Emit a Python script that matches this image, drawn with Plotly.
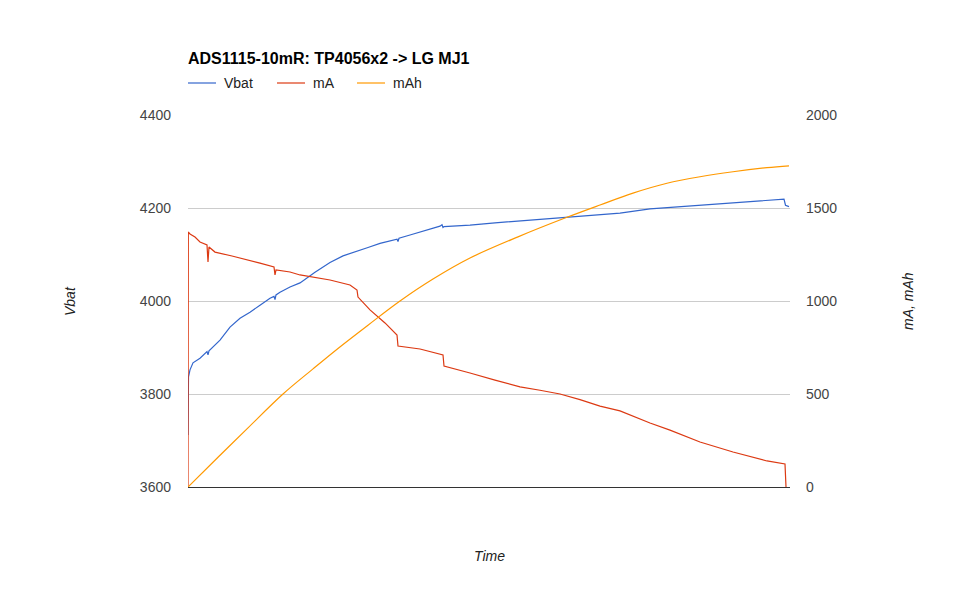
import plotly.graph_objects as go

# ---- data (time in arbitrary sample units) ----
vbat_t = [0, 0.5, 2, 5, 12, 19, 20, 21, 32, 42, 52, 62, 72, 82, 86, 87, 88, 92, 102, 112,
          127, 142, 155, 169, 180, 192, 209, 210, 211, 222, 232, 242, 252, 254, 255, 256, 272,
          282, 307, 332, 352, 372, 392, 412, 432, 462, 487, 512, 537, 562, 580, 596, 597.5, 601]
vbat = [3712, 3837, 3852, 3867, 3877, 3891, 3884, 3893, 3916, 3944, 3963, 3976, 3991, 4006,
        4010, 4003, 4013, 4019, 4030, 4039, 4062, 4083, 4097, 4108, 4115, 4124, 4133, 4128, 4135,
        4142, 4148, 4155, 4161, 4164, 4158, 4160, 4161, 4163, 4168, 4172, 4176, 4179, 4183, 4186,
        4189, 4198, 4202, 4206, 4211, 4215, 4217, 4219, 4206, 4203]

ma_t = [0, 0.3, 2, 7, 12, 19, 20, 21, 27, 37, 44, 72, 86, 87, 88, 102, 112, 142, 162, 169,
        170, 182, 197, 209, 210, 232, 255, 256, 272, 282, 307, 332, 352, 372, 392, 412, 432,
        462, 482, 512, 545, 579, 597, 598]
ma = [0, 1371, 1360, 1344, 1317, 1301, 1210, 1290, 1263, 1253, 1242, 1204, 1183, 1140, 1167,
      1156, 1140, 1113, 1086, 1059, 1021, 952, 882, 817, 758, 742, 710, 650, 629, 613, 575, 538,
      520, 500, 470, 435, 409, 344, 306, 242, 188, 140, 124, 0]

mah_t = [0, 30, 60, 95, 125, 150, 180, 212, 245, 282, 330, 377, 412, 445, 479, 512, 545, 579, 601]
mah = [0, 160, 318, 500, 635, 745, 870, 1000, 1118, 1231, 1345, 1446, 1516, 1580, 1633, 1668,
       1695, 1717, 1727]

left_ticks = [3600, 3800, 4000, 4200, 4400]
right_ticks = [0, 500, 1000, 1500, 2000]

title_text = "ADS1115-10mR: TP4056x2 -> LG MJ1"
series_names = ["Vbat", "mA", "mAh"]
colors = ["#3366cc", "#dc3912", "#ff9900"]

FONT = "Liberation Sans, Arial, sans-serif"
W, H = 976, 603
OFF = 8  # page body margin
L, R, T, B = 188, 790, 115, 487
PW, PH = R - L, B - T


def px(x):
    return (x - L) / PW


def py(y):
    return (B - y) / PH


fig = go.Figure()
fig.add_trace(go.Scatter(x=vbat_t, y=vbat, mode="lines", name=series_names[0],
                         line=dict(color=colors[0], width=1.2), yaxis="y"))
fig.add_trace(go.Scatter(x=ma_t, y=ma, mode="lines", name=series_names[1],
                         line=dict(color=colors[1], width=1.2), yaxis="y2"))
fig.add_trace(go.Scatter(x=mah_t, y=mah, mode="lines", name=series_names[2],
                         line=dict(color=colors[2], width=1.2, shape="spline", smoothing=1.0),
                         yaxis="y2"))

fig.update_layout(
    width=W, height=H,
    margin=dict(l=L - OFF, r=W - R + OFF, t=T - OFF, b=H - B + OFF, pad=0),
    paper_bgcolor="white", plot_bgcolor="white",
    showlegend=False,
    font=dict(family=FONT, size=14, color="#444444"),
    xaxis=dict(range=[0, 602], showgrid=False, zeroline=False, showticklabels=False,
               ticks="", showline=True, linecolor="#333333", linewidth=1),
    yaxis=dict(range=[3600, 4400], tickvals=left_ticks, ticktext=[str(v) for v in left_ticks],
               showgrid=True, gridcolor="#cccccc", gridwidth=1, zeroline=False, ticks="",
               ticklabelstandoff=16, tickfont=dict(size=14, color="#444444")),
    yaxis2=dict(range=[0, 2000], tickvals=right_ticks, ticktext=[str(v) for v in right_ticks],
                overlaying="y", side="right", showgrid=False, zeroline=False, ticks="",
                ticklabelstandoff=15, tickfont=dict(size=14, color="#444444")),
)

ann = []
# title
ann.append(dict(text="<b>" + title_text + "</b>", x=px(186), y=py(59), xref="paper", yref="paper",
                xanchor="left", yanchor="middle", showarrow=False,
                font=dict(family=FONT, size=16, color="#000000")))
# legend (manual)
leg_line_x = [188, 277, 357]
for i, name in enumerate(series_names):
    x0 = leg_line_x[i]
    fig.add_shape(type="line", xref="paper", yref="paper", x0=px(x0), x1=px(x0 + 28),
                  y0=py(83), y1=py(83), line=dict(color=colors[i], width=1.2))
    ann.append(dict(text=name, x=px(x0 + 34), y=py(83), xref="paper", yref="paper",
                    xanchor="left", yanchor="middle", showarrow=False,
                    font=dict(family=FONT, size=14, color="#222222")))
# axis titles
ann.append(dict(text="<i>Vbat</i>", x=px(70), y=py(301), xref="paper", yref="paper",
                xanchor="center", yanchor="middle", showarrow=False, textangle=-90,
                font=dict(family=FONT, size=14, color="#222222")))
ann.append(dict(text="<i>mA, mAh</i>", x=px(908), y=py(301), xref="paper", yref="paper",
                xanchor="center", yanchor="middle", showarrow=False, textangle=-90,
                font=dict(family=FONT, size=14, color="#222222")))
ann.append(dict(text="<i>Time</i>", x=px(489), y=py(556), xref="paper", yref="paper",
                xanchor="center", yanchor="middle", showarrow=False,
                font=dict(family=FONT, size=14, color="#222222")))
fig.update_layout(annotations=ann)

fig.write_html("out.html")
